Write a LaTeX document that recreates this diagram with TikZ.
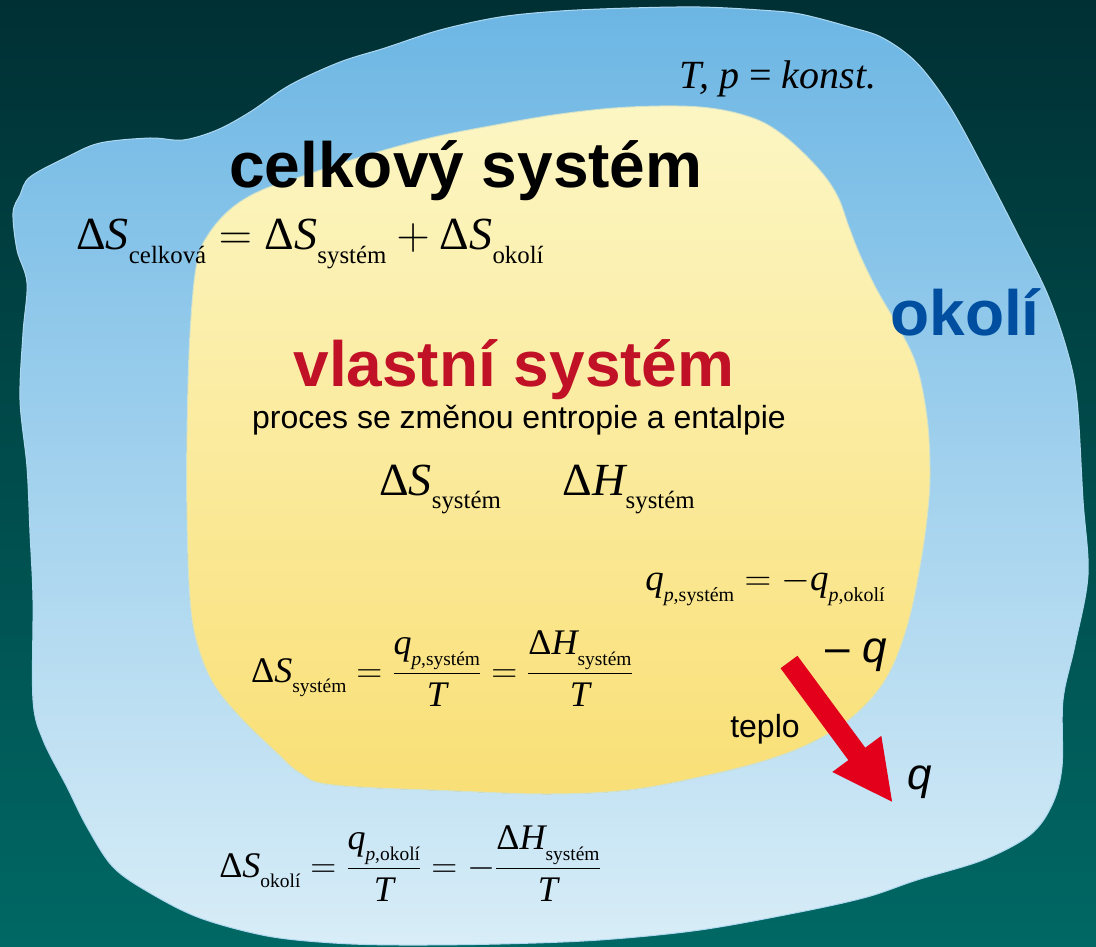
\RequirePackage{fix-cm}
\documentclass[tikz,border=0pt]{standalone}
\usepackage{amsmath}
\usepackage{graphicx}
\usepackage{fontspec}
\setmainfont{Liberation Serif}
\setsansfont{Liberation Sans}
\usetikzlibrary{arrows.meta}
\definecolor{bgtop}{RGB}{0,48,52}
\definecolor{bgbottom}{RGB}{0,104,100}
\definecolor{skytop}{RGB}{108,182,228}
\definecolor{skybottom}{RGB}{216,237,247}
\definecolor{sandtop}{RGB}{252,246,196}
\definecolor{sandbottom}{RGB}{249,223,118}
\definecolor{sysred}{RGB}{192,17,38}
\definecolor{envblue}{RGB}{0,78,160}
\definecolor{heatred}{RGB}{226,0,26}
\newcommand{\lo}[1]{\raisebox{-0.3em}{\scalebox{0.54}{#1}}}
\newcommand{\dS}{\text{Δ}\textit{S}}
\newcommand{\dH}{\text{Δ}\textit{H}}

\begin{document}
\begin{tikzpicture}[
			x=1pt,y=-1pt,
			blobline/.style={
				line width=1pt,
				line join=round
			},
			bigword/.style={
				inner sep=0pt,
				anchor=base,
				font={\sffamily\bfseries\fontsize{64}{70}\selectfont}
			},
			plainword/.style={
				inner sep=0pt,
				anchor=base,
				font={\sffamily\fontsize{32}{38}\selectfont}
			},
			eqtext/.style={
				inner sep=0pt,
				anchor=base,
				font={\rmfamily\fontsize{#1}{#1}\selectfont}
			},
			heatarrow/.style={
				draw=heatred,
				line width=21pt,
				-{Triangle[length=61pt,width=56pt]}
			}
		]
			\useasboundingbox (0,0) rectangle (1096,947);
			\fill[top color=bgtop,bottom color=bgbottom] (0,0) rectangle (1096,947);
			
			% okoli
			\filldraw[blobline,draw=white!45!skytop,top color=skytop,bottom color=skybottom]
				plot[smooth cycle,tension=0.55] coordinates {
				(30,177) (67,157) (100,143) (150,138) (183,140) (217,130) (250,112)
				(290,85) (340,62) (385,48) (440,30) (500,17) (560,11) (630,8)
				(700,7) (760,10) (800,14) (850,27) (883,38) (917,63) (950,107)
				(983,167) (1017,233) (1047,293) (1067,350) (1077,400) (1083,500)
				(1088,575) (1075,645) (1063,700) (1062,767) (1052,805) (1030,835)
				(983,860) (917,880) (867,897) (800,912) (700,930) (600,940)
				(500,944) (400,945) (333,943) (267,936) (200,918) (150,893)
				(113,867) (87,827) (67,787) (43,740) (33,700) (33,600) (30,533)
				(27,467) (20,400) (23,333) (27,283) (17,250) (13,213) (20,195)
			};
			
			% vlastni system
			\filldraw[blobline,draw=skytop!30!sandtop,top color=sandtop,bottom color=sandbottom]
				plot[smooth cycle,tension=0.6] coordinates {
				(187,433) (190,333) (197,262) (210,232) (233,207) (262,190)
				(300,177) (364,156) (430,138) (490,126) (560,114) (630,107)
				(700,107) (750,117) (783,135) (817,167) (837,195) (849,227)
				(860,255) (877,290) (900,330) (917,367) (927,417) (930,467)
				(928,510) (920,567) (907,627) (887,677) (857,713) (817,740)
				(767,760) (700,777) (629,790) (550,794) (455,791) (333,785)
				(300,773) (277,753) (240,717) (213,683) (197,643) (190,600)
				(187,520)
			};
			
			\node[eqtext=40] (cond) at (778,89) {\textit{T, p} = \textit{konst.}};
			\node[bigword] (total) at (466,188) {celkový systém};
			\node[eqtext=46] (totaleq) at (310,250) {$\dS\lo{celková} = \dS\lo{systém} + \dS\lo{okolí}$};
			\node[bigword,text=envblue] (env) at (965,335) {okolí};
			\node[bigword,text=sysred] (sys) at (514,386) {vlastní systém};
			\node[plainword] (proc) at (519,428) {proces se změnou entropie a entalpie};
			\node[eqtext=46] (sysvars) at (537,495) {$\dS\lo{systém}\hspace{62pt}\dH\lo{systém}$};
			\node[eqtext=37] (qeq) at (765,590) {$\textit{q}\lo{\textit{p},systém} = -\textit{q}\lo{\textit{p},okolí}$};
			\node[eqtext=36] (syseq) at (442,682) {$\dS\lo{systém} = \dfrac{\textit{q}\lo{\textit{p},systém}}{\textit{T}} = \dfrac{\dH\lo{systém}}{\textit{T}}$};
			\node[eqtext=36] (enveq) at (410,877) {$\dS\lo{okolí} = \dfrac{\textit{q}\lo{\textit{p},okolí}}{\textit{T}} = -\dfrac{\dH\lo{systém}}{\textit{T}}$};
			
			% teplo
			\coordinate (heatfrom) at (789,662);
			\coordinate (heatto) at (893,803);
			\draw[heatarrow] (heatfrom) -- (heatto);
			\node[plainword,font={\sffamily\fontsize{44}{50}\selectfont}] (minusq) at (856,662) {– \textit{q}};
			\node[plainword] (heat) at (765,737) {teplo};
			\node[plainword,font={\sffamily\fontsize{44}{50}\selectfont}] (plusq) at (920,789) {\textit{q}};
			
		\end{tikzpicture}
\end{document}
